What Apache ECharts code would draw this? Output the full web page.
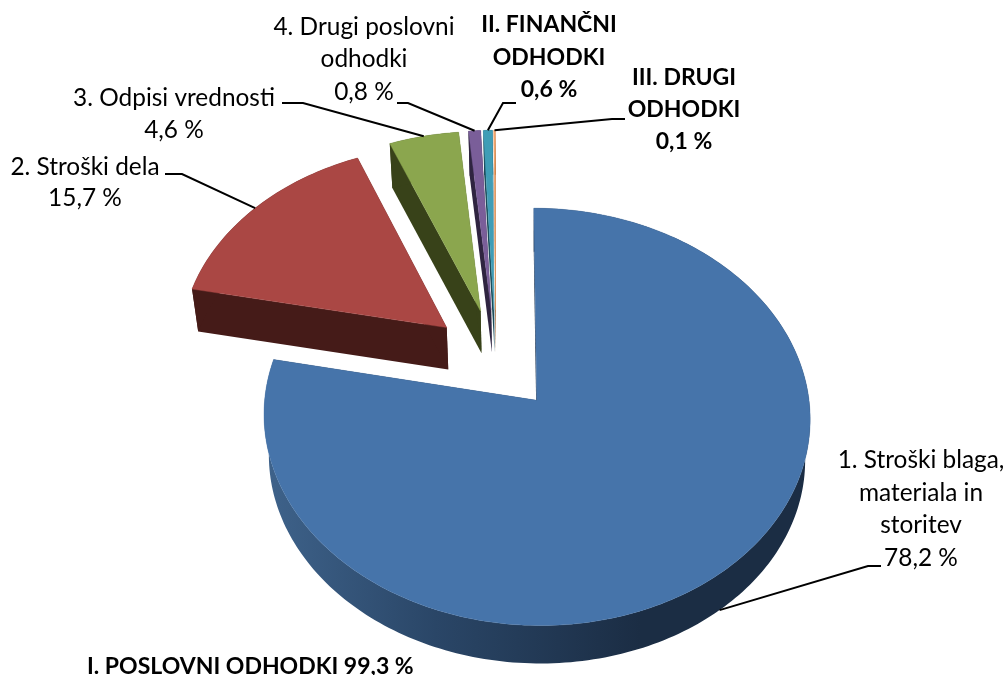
<!DOCTYPE html>
<html><head><meta charset="utf-8">
<style>html,body{margin:0;padding:0;background:#fff}#c{width:1007px;height:675px}</style>
<script src="https://cdn.jsdelivr.net/npm/echarts@6/dist/echarts.min.js"></script>
</head><body><div id="c"></div>
<script>
var categories = ['1. Stroški blaga, materiala in storitev','2. Stroški dela','3. Odpisi vrednosti','4. Drugi poslovni odhodki','II. FINANČNI ODHODKI','III. DRUGI ODHODKI'];
var values = [78.2,15.7,4.6,0.8,0.6,0.1];
var labelLines = [
 ['1. Stroški blaga,','materiala in','storitev','78,2 %'],
 ['2. Stroški dela','15,7 %'],
 ['3. Odpisi vrednosti','4,6 %'],
 ['4. Drugi poslovni','odhodki','0,8 %'],
 ['II. FINANČNI','ODHODKI','0,6 %'],
 ['III. DRUGI','ODHODKI','0,1 %']
];
var boldLabel = [false,false,false,false,true,true];
var groupTitle = 'I. POSLOVNI ODHODKI 99,3 %';
var topColors = ['#4674AA','#AA4744','#8BA64E','#7A5E99','#3F9DB6','#F2A46A'];
var wallColors = ['#1B2D44','#451B18','#384219','#2F2440','#1A4A58','#A0602E'];

// layout of the projected pie
var CX=495.5, CY=360, RX=268, RY=201, K=0.078, EXPLODE_X=0.24, EXPLODE_Y=0.255, DEPTH=41, SHRINK_X=0.982, SHRINK_Y=0.9866, PX=533, PY=400;
// label layout: centre x, first line y, line step; leader elbows
var labelPos = [[921,460,32.8],[85,167,31.5],[174,98,32],[364,27,32.5],[549,25,32.5],[684,78,32]];
var leaderElbows = [[[868,566],[881,566]],[[182,174],[165,174]],[[303,103],[282,103]],[[408,103],[397,103]],[[503,103],[516,103]],[[612,119],[625,119]]];
var leaderOnBase = [true,false,false,false,false,false];

var total = values.reduce(function(a,b){return a+b;},0);
var starts = []; (function(){var s=0;values.forEach(function(v){starts.push(s);s+=v;});})();
function ang(p){return p/total*Math.PI*2;}
function proj(i,r,t){
  var mid=ang(starts[i]+values[i]/2);
  var u=EXPLODE_X*Math.sin(mid)+r*Math.sin(t), v=EXPLODE_Y*Math.cos(mid)+r*Math.cos(t);
  var s=1/(1+K*v);
  return [CX+RX*u*s, CY-RY*v*s];
}
function base(p){return [PX+(p[0]-PX)*SHRINK_X, PY+(p[1]-PY)*SHRINK_Y+DEPTH];}
function rimPts(i){
  var a=ang(starts[i]), b=ang(starts[i]+values[i]), n=Math.max(4,Math.ceil((b-a)/0.02)), pts=[];
  for(var k=0;k<=n;k++){pts.push(proj(i,1,a+(b-a)*k/n));}
  return pts;
}
function poly(pts,fill,stroke){
  return {type:'polygon',shape:{points:pts},style:{fill:fill,stroke:stroke||null,lineWidth:stroke?0.4:0}};
}
var chart=echarts.init(document.getElementById('c'),null,{renderer:'canvas'});
function renderSlice(params,api){
  var i=api.value(0), rim=rimPts(i), apex=proj(i,0,0), kids=[];
  var wall = i===0 ? new echarts.graphic.LinearGradient(268,0,640,0,[{offset:0,color:'#3E628A'},{offset:0.45,color:'#2A4667'},{offset:1,color:wallColors[0]}],true) : wallColors[i];
  var first=rim[0], last=rim[rim.length-1];
  kids.push(poly([apex,first,base(first),base(apex)],wallColors[i]));
  kids.push(poly([apex,last,base(last),base(apex)],wallColors[i]));
  kids.push(poly(rim.concat(rim.slice().reverse().map(base)),wall));
  kids.push(poly([apex].concat(rim),topColors[i],topColors[i]));
  return {type:'group',children:kids};
}
function renderLabel(params,api){
  var i=api.value(0), kids=[];
  var p=proj(i,1,ang(starts[i]+values[i]/2));
  if(leaderOnBase[i]) p=base(p);
  kids.push({type:'polyline',shape:{points:[p].concat(leaderElbows[i])},style:{fill:null,stroke:'#000',lineWidth:2}});
  var L=labelPos[i];
  labelLines[i].forEach(function(t,j){
    kids.push({type:'text',style:{text:t,x:L[0],y:L[1]+j*L[2],align:'center',verticalAlign:'middle',fill:'#000',
      font:(boldLabel[i]?'bold 23px':'24.4px')+' Lato'}});
  });
  return {type:'group',children:kids};
}
var idx=values.map(function(v,i){return [i,v,categories[i]];});
chart.setOption({
  animation:false,
  backgroundColor:'#fff',
  title:{text:groupTitle,left:87,top:654,padding:0,textStyle:{fontFamily:'Lato',fontWeight:'bold',fontSize:23,color:'#000',lineHeight:26}},
  series:[
    {type:'custom',coordinateSystem:'none',data:idx,renderItem:renderSlice,silent:true,z:2},
    {type:'custom',coordinateSystem:'none',data:idx,renderItem:renderLabel,silent:true,z:3}
  ]
});
</script></body></html>
